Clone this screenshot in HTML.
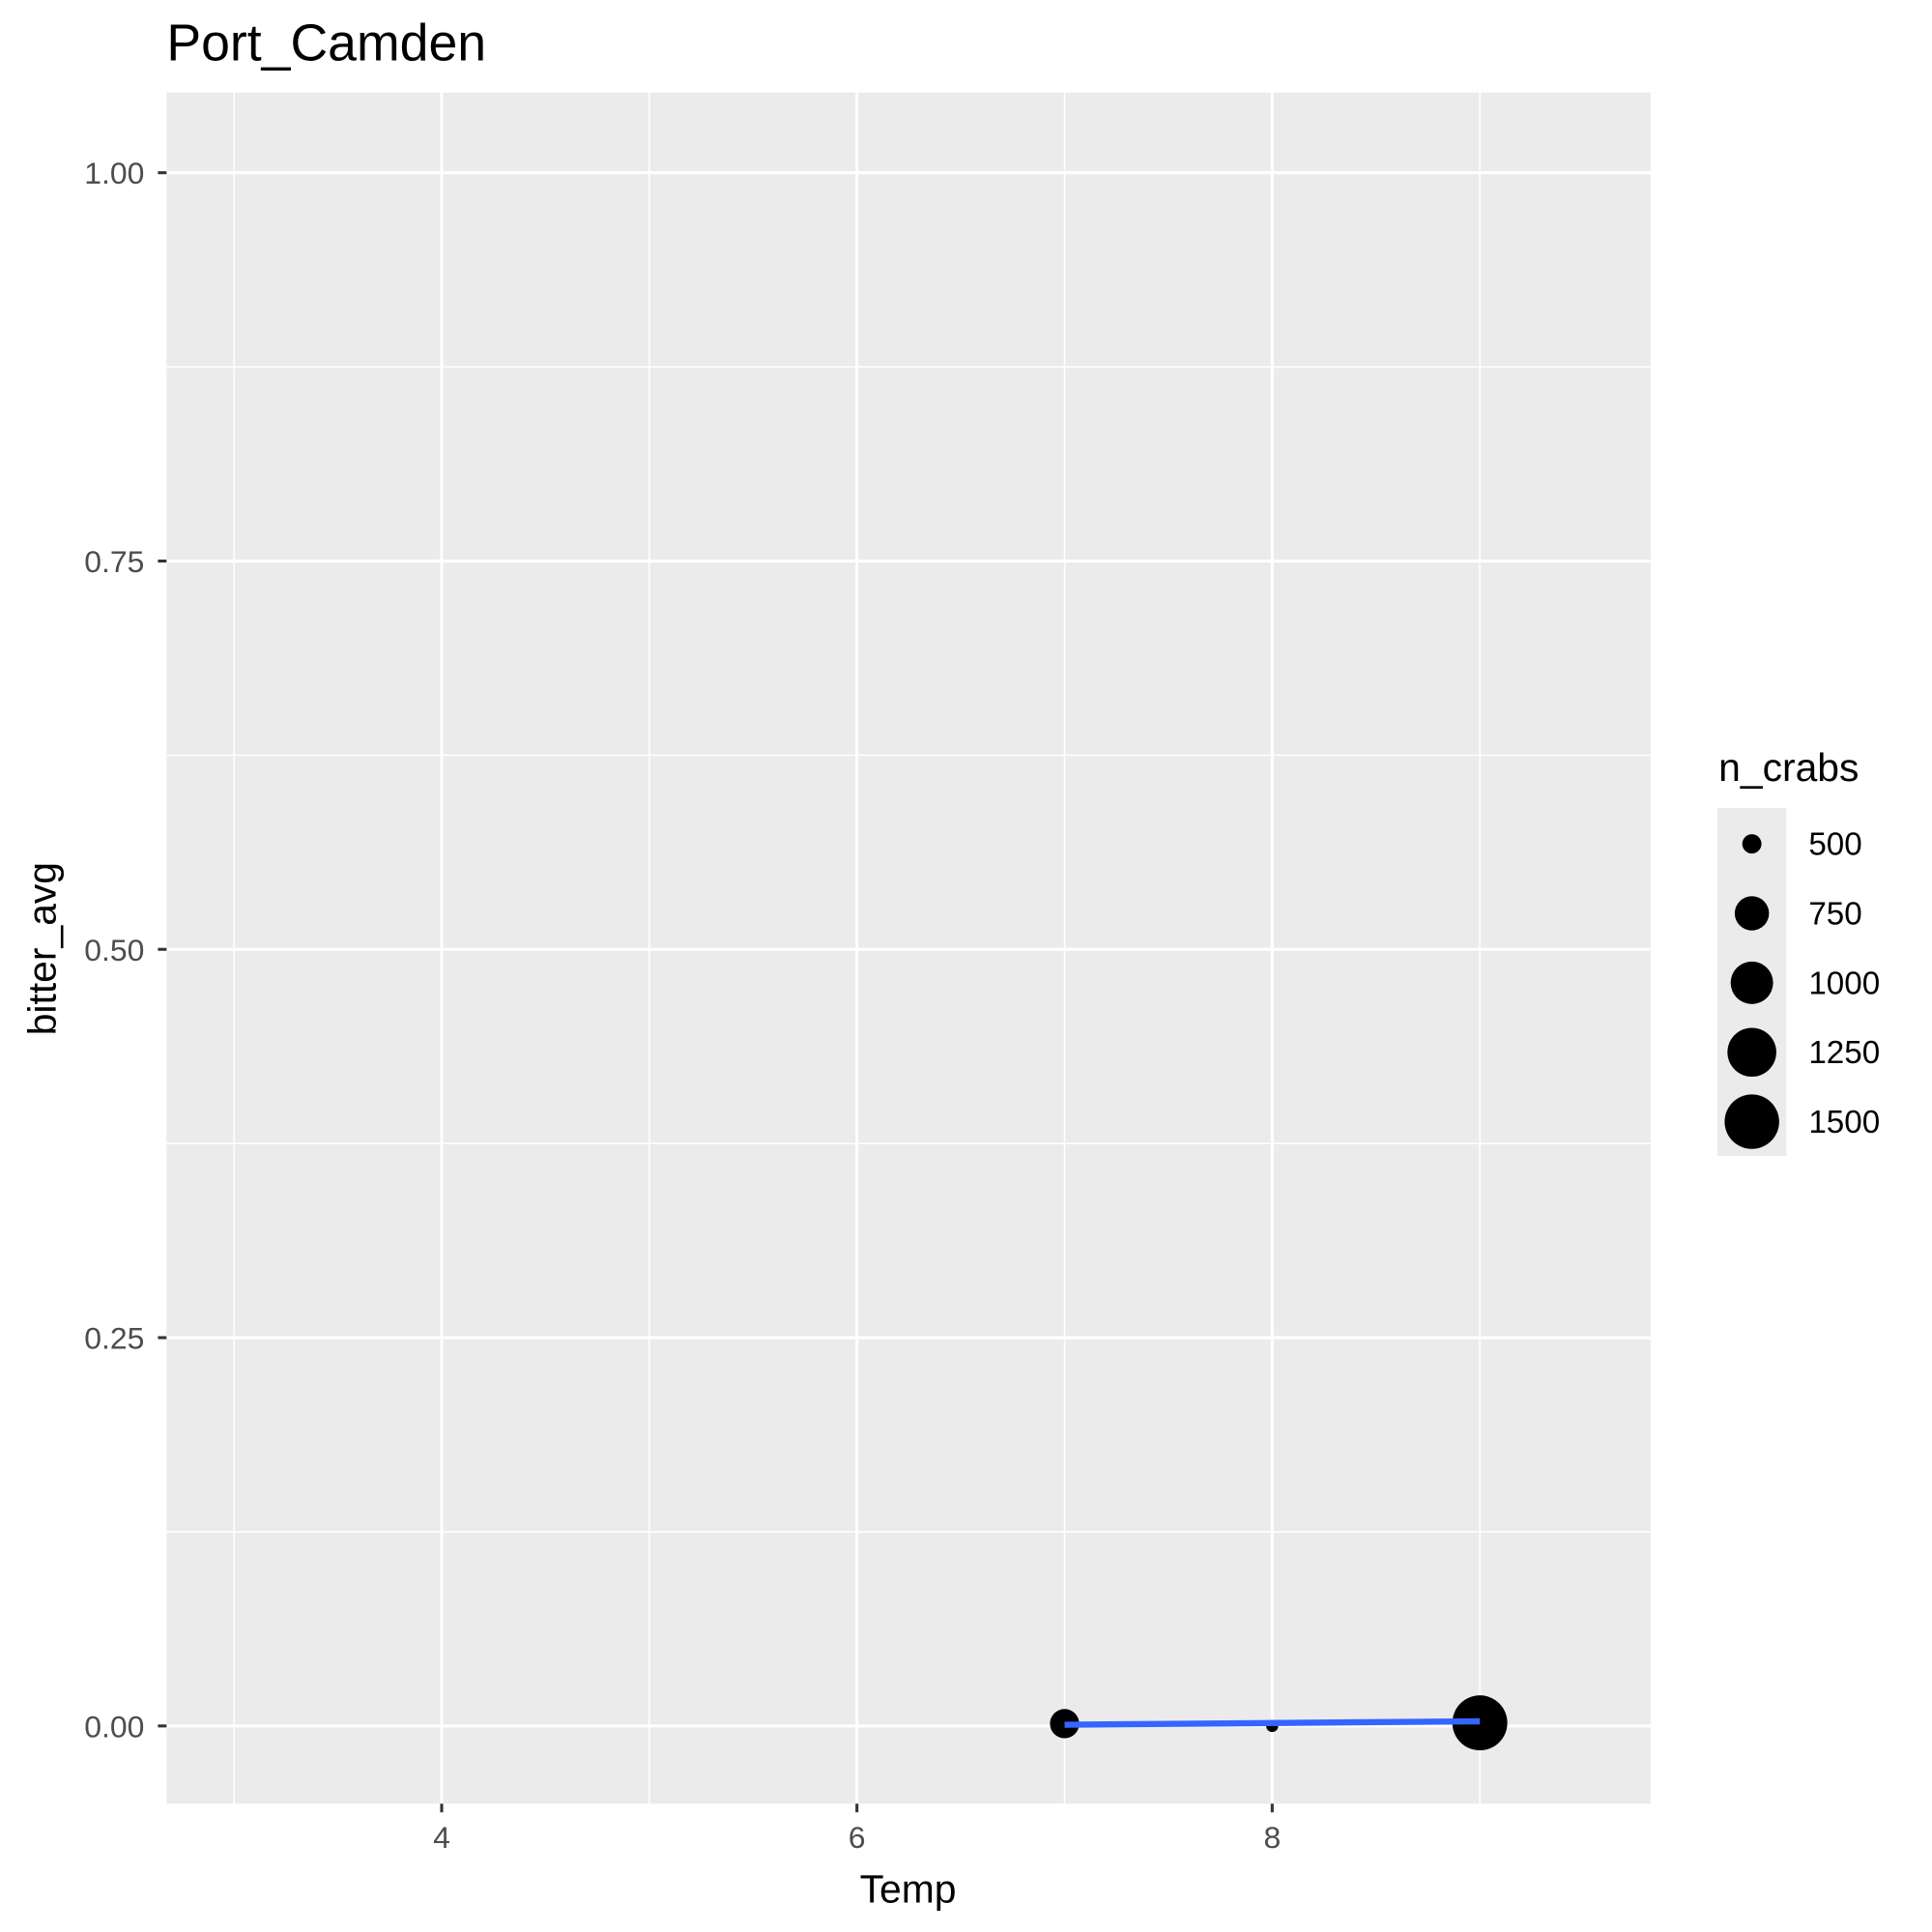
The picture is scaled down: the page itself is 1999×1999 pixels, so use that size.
<!DOCTYPE html>
<html><head><meta charset="utf-8"><style>
html,body{margin:0;padding:0;background:#fff}
svg{display:block;font-family:"Liberation Sans","DejaVu Sans",sans-serif}
</style></head><body>
<svg id="chart" width="1999" height="1999" viewBox="0 0 1566 1566">
<rect width="1566" height="1566" fill="#fff"/>
<text x="135" y="49" font-size="42" fill="#000">Port_Camden</text>
<rect x="135" y="75" width="1203" height="1387" fill="#ebebeb"/>
<g id="grid"></g>
<g id="axes"></g>
<g id="marks"></g>
<text x="736" y="1542" font-size="32" text-anchor="middle" fill="#000">Temp</text>
<text transform="translate(45,769) rotate(-90)" font-size="32" text-anchor="middle" fill="#000">bitter_avg</text>
<text x="1393" y="633" font-size="32" fill="#000">n_crabs</text>
<rect x="1392" y="655" width="56" height="282" fill="#ebebeb"/>
<g id="legend"></g>
</svg>
<script>
const xTicks = [4, 6, 8];
const xMinor = [3, 5, 7, 9];
const yTicks = [0, 0.25, 0.5, 0.75, 1.0];
const yTickLabels = ["0.00", "0.25", "0.50", "0.75", "1.00"];
const yMinor = [0.125, 0.375, 0.625, 0.875];
const temps = [7, 8, 9];
const bitterAvg = [0.0015, 0.0, 0.002];
const nCrabs = [650, 430, 1520];
const fitX = [7, 9];
const fitY = [0.0008, 0.003];
const legendBreaks = [500, 750, 1000, 1250, 1500];
const legendRadii = [7.8, 13.9, 17.2, 19.8, 22.1];

const NS = "http://www.w3.org/2000/svg";
const xs = v => 358 + (v - 4) * 168.3;
const ys = v => 1399 - v * 1259;
function rs(n) {
  const sq = legendRadii.map(r => r * r);
  let i = 0;
  while (i < legendBreaks.length - 2 && n > legendBreaks[i + 1]) i++;
  const t = (n - legendBreaks[i]) / (legendBreaks[i + 1] - legendBreaks[i]);
  const a = sq[i] + t * (sq[i + 1] - sq[i]);
  return Math.sqrt(Math.max(a, 4));
}
function mk(tag, attrs, parent) {
  const e = document.createElementNS(NS, tag);
  for (const k in attrs) e.setAttribute(k, attrs[k]);
  parent.appendChild(e);
  return e;
}
const grid = document.getElementById('grid');
const axes = document.getElementById('axes');
const marks = document.getElementById('marks');
const legend = document.getElementById('legend');

xMinor.forEach(v => {
  const l = mk('line', {x1: xs(v), x2: xs(v), y1: 75, y2: 1462, stroke: '#fff', 'stroke-width': 1.2}, grid);
  
  
});
yMinor.forEach(v => {
  const l = mk('line', {x1: 135, x2: 1338, y1: ys(v), y2: ys(v), stroke: '#fff', 'stroke-width': 1.2}, grid);
  
  
});
xTicks.forEach(v => {
  const l = mk('line', {x1: xs(v), x2: xs(v), y1: 75, y2: 1462, stroke: '#fff', 'stroke-width': 2.4}, grid);
  
  
  const t = mk('line', {x1: xs(v), x2: xs(v), y1: 1462, y2: 1469, stroke: '#333', 'stroke-width': 2.4}, axes);
  
  
  const tx = mk('text', {x: xs(v), y: 1498, 'font-size': 25, fill: '#4d4d4d', 'text-anchor': 'middle'}, axes);
  tx.textContent = String(v);
  
  
});
yTicks.forEach((v, i) => {
  const l = mk('line', {x1: 135, x2: 1338, y1: ys(v), y2: ys(v), stroke: '#fff', 'stroke-width': 2.4}, grid);
  
  
  const t = mk('line', {x1: 128, x2: 135, y1: ys(v), y2: ys(v), stroke: '#333', 'stroke-width': 2.4}, axes);
  
  
  const tx = mk('text', {x: 117, y: ys(v) + 9, 'font-size': 25, fill: '#4d4d4d', 'text-anchor': 'end'}, axes);
  tx.textContent = yTickLabels[i];
  
  
});
temps.forEach((v, i) => {
  const c = mk('circle', {cx: xs(v), cy: ys(bitterAvg[i]), r: rs(nCrabs[i]), fill: '#000'}, marks);
  
  
});
const fit = mk('line', {x1: xs(fitX[0]), y1: ys(fitY[0]), x2: xs(fitX[1]), y2: ys(fitY[1]), stroke: '#3366ff', 'stroke-width': 5}, marks);


legendBreaks.forEach((b, i) => {
  const cy = 684 + i * 56.3;
  const c = mk('circle', {cx: 1420, cy: cy, r: legendRadii[i], fill: '#000'}, legend);
  
  
  const t = mk('text', {x: 1466, y: cy + 9, 'font-size': 26, fill: '#000'}, legend);
  t.textContent = String(b);
  
  
});
</script>
</body></html>
